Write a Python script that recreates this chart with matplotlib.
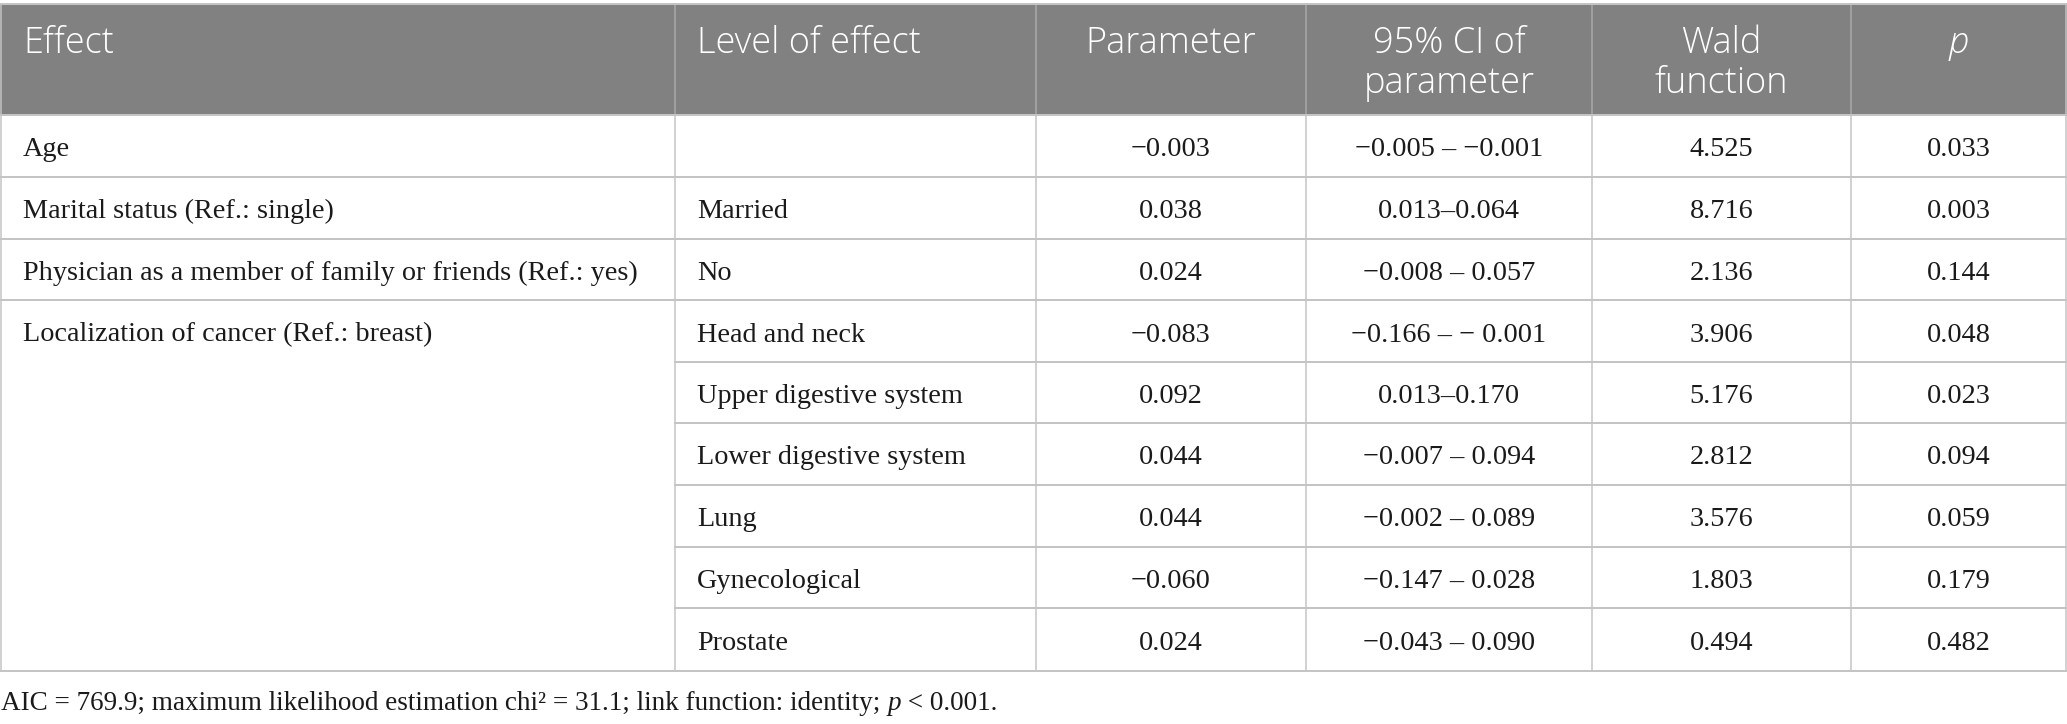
import matplotlib
matplotlib.use("Agg")
import matplotlib.pyplot as plt
from matplotlib.patches import Rectangle

# ---------------- data ----------------
header_labels = [["Effect"], ["Level of effect"], ["Parameter"],
                 ["95% CI of", "parameter"], ["Wald", "function"], ["p"]]
header_italic = [False, False, False, False, False, True]
header_align = ["left", "left", "center", "center", "center", "center"]

effects = ["Age",
           "Marital status (Ref.: single)",
           "Physician as a member of family or friends (Ref.: yes)",
           "Localization of cancer (Ref.: breast)",
           "", "", "", "", ""]
levels = ["", "Married", "No", "Head and neck", "Upper digestive system",
          "Lower digestive system", "Lung", "Gynecological", "Prostate"]
parameters = ["\u22120.003", "0.038", "0.024", "\u22120.083", "0.092",
              "0.044", "0.044", "\u22120.060", "0.024"]
ci_of_parameter = ["\u22120.005 \u2013 \u22120.001", "0.013\u20130.064",
                   "\u22120.008 \u2013 0.057", "\u22120.166 \u2013 \u2212 0.001",
                   "0.013\u20130.170", "\u22120.007 \u2013 0.094",
                   "\u22120.002 \u2013 0.089", "\u22120.147 \u2013 0.028",
                   "\u22120.043 \u2013 0.090"]
wald = ["4.525", "8.716", "2.136", "3.906", "5.176", "2.812", "3.576",
        "1.803", "0.494"]
p_values = ["0.033", "0.003", "0.144", "0.048", "0.023", "0.094", "0.059",
            "0.179", "0.482"]
footnote_parts = [("AIC = 769.9; maximum likelihood estimation chi\u00b2 = 31.1; "
                   "link function: identity; ", "normal"),
                  ("p", "italic"),
                  (" < 0.001.", "normal")]

# ---------------- layout ----------------
W, H = 2067, 724
fig = plt.figure(figsize=(W / 100, H / 100), dpi=100)
ax = fig.add_axes([0, 0, 1, 1])
ax.set_xlim(0, W)
ax.set_ylim(H, 0)
ax.axis("off")

col_edges = [1, 675, 1036, 1306, 1592, 1851, 2066]
header_top, header_bottom = 4, 115
row_edges = [115, 177, 239, 300, 362, 423, 485, 547, 608, 671]

header_fill = "#808180"
header_sep = "#a9aaa9"
grid = "#c4c4c4"
text_col = "#1a1a1a"
serif = "Liberation Serif"
sans = "Open Sans"
body_fs = 20.3
foot_fs = 19.5
head_fs = 26
pad = 22

# header background
ax.add_patch(Rectangle((0, header_top), W, header_bottom - header_top,
                       facecolor=header_fill, edgecolor="none", zorder=1))

px = 72 / 100  # points per pixel
# top border
ax.plot([0, W], [header_top, header_top], color=grid, lw=2 * px, zorder=3)
# header separators
for x in col_edges[1:-1]:
    ax.plot([x, x], [header_top, header_bottom], color=header_sep,
            lw=1.5 * px, zorder=2)
# body vertical lines
for x in col_edges:
    ax.plot([x, x], [header_bottom, row_edges[-1]], color=grid,
            lw=1.5 * px, zorder=2)
# outer left/right in header area
for x in (col_edges[0], col_edges[-1]):
    ax.plot([x, x], [header_top, header_bottom], color=grid,
            lw=1.5 * px, zorder=2)
# horizontal lines
n_rows = len(effects)
for i in range(n_rows + 1):
    y = row_edges[i]
    x0 = 0
    if 0 < i < n_rows and effects[i] == "":
        x0 = col_edges[1]
    ax.plot([x0, W], [y, y], color=grid, lw=2 * px, zorder=3)

# header text
head_baselines = [53, 93]
for c, lines in enumerate(header_labels):
    if header_align[c] == "left":
        x = col_edges[c] + pad
    else:
        x = (col_edges[c] + col_edges[c + 1]) / 2
    for j, line in enumerate(lines):
        ax.text(x, head_baselines[j], line, ha=header_align[c], va="baseline",
                fontsize=head_fs, family=sans, color="white", weight="light",
                style="italic" if header_italic[c] else "normal", zorder=4)

# body text
columns = [effects, levels, parameters, ci_of_parameter, wald, p_values]
for r in range(n_rows):
    yb = (row_edges[r] + row_edges[r + 1]) / 2 + 10.5
    for c, col in enumerate(columns):
        s = col[r]
        if not s:
            continue
        if c < 2:
            x, ha = col_edges[c] + pad, "left"
        else:
            x, ha = (col_edges[c] + col_edges[c + 1]) / 2, "center"
        ax.text(x, yb, s, ha=ha, va="baseline", fontsize=body_fs,
                family=serif, color=text_col, zorder=4)

# footnote (rich text)
fig.canvas.draw()
renderer = fig.canvas.get_renderer()
x = 1
for s, style in footnote_parts:
    t = ax.text(x, 710, s, ha="left", va="baseline", fontsize=foot_fs,
                family=serif, style=style, color=text_col, zorder=4)
    bb = t.get_window_extent(renderer=renderer)
    x += bb.width

fig.savefig("out.png", dpi=100)
